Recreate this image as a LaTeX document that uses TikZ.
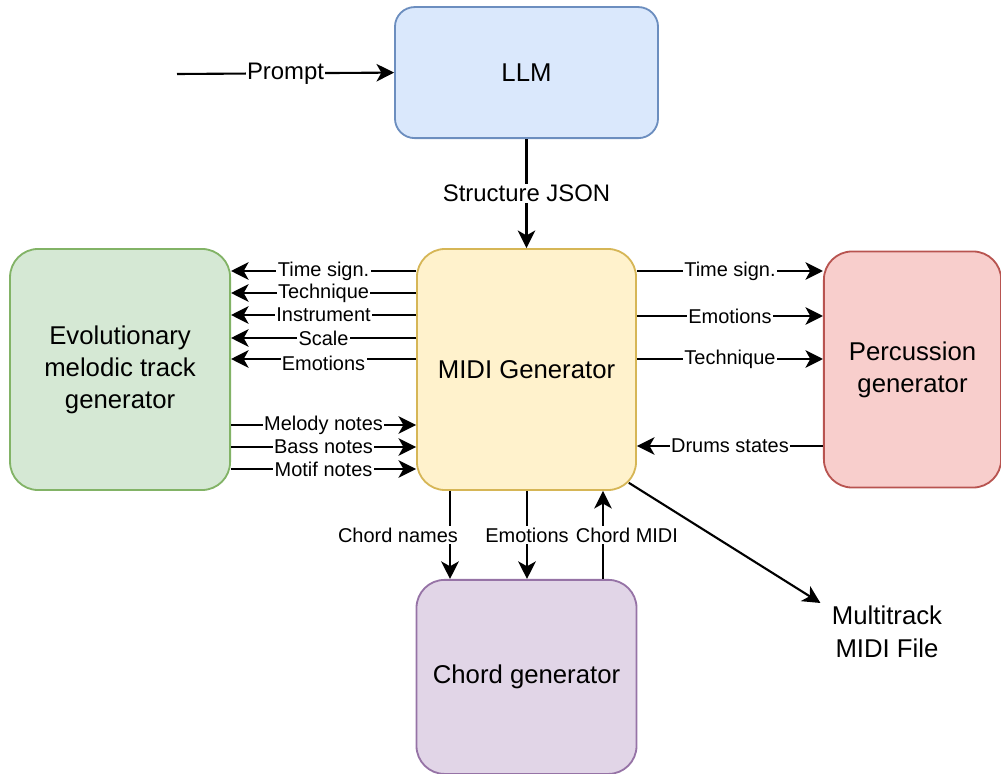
\documentclass[tikz,border=0pt]{standalone}
\usepackage{fontspec}
\setmainfont{Liberation Sans}
\usepackage{xcolor}
\usetikzlibrary{arrows.meta,positioning}

\definecolor{llmfill}{HTML}{DAE8FC}
\definecolor{llmdraw}{HTML}{6C8EBF}
\definecolor{midifill}{HTML}{FFF2CC}
\definecolor{mididraw}{HTML}{D6B656}
\definecolor{evofill}{HTML}{D5E8D4}
\definecolor{evodraw}{HTML}{82B366}
\definecolor{percfill}{HTML}{F8CECC}
\definecolor{percdraw}{HTML}{B85450}
\definecolor{chordfill}{HTML}{E1D5E7}
\definecolor{chorddraw}{HTML}{9673A6}

\begin{document}
\begin{tikzpicture}[
    x=0.025cm, y=-0.025cm,
    mybox/.style={
    rectangle,
    rounded corners=20pt,
    line width=1.3pt,
    align=center,
    inner sep=0pt,
    font=\fontsize{18.3}{22.8}\selectfont},
    mylabel/.style={
    fill=white,
    inner sep=1pt,
    font=\fontsize{14.2}{16}\selectfont},
    biglabel/.style={
    mylabel,
    font=\fontsize{17}{19}\selectfont},
    myarrow/.style={-{Stealth[length=12.5pt,width=12.5pt,inset=3.5pt]},line width=1.5pt}
    ]
    \useasboundingbox (0,0) rectangle (1001,774);

    \node[mybox, fill=midifill, draw=mididraw, minimum width=5.475cm, minimum height=6.025cm] (midi) at (526.5,369.5) {MIDI Generator};
    \node[mybox, fill=llmfill, draw=llmdraw, rounded corners=14pt, minimum width=6.575cm, minimum height=3.275cm, above=2.725cm of midi] (llm) {LLM};
    \node[mybox, fill=evofill, draw=evodraw, minimum width=5.5cm, minimum height=6.025cm, left=4.625cm of midi] (evo) {Evolutionary\\melodic track\\generator};
    \node[mybox, fill=percfill, draw=percdraw, minimum width=4.43cm, minimum height=5.9cm, right=4.65cm of midi] (perc) {Percussion\\generator};
    \node[mybox, fill=chordfill, draw=chorddraw, minimum width=5.5cm, minimum height=4.85cm, below=2.2cm of midi] (chord) {Chord generator};
    \node[align=center, inner sep=2pt, font=\fontsize{18.3}{23.4}\selectfont] (multi) at (887,632) {Multitrack\\MIDI File};
    \coordinate (prompt) at (177,74);

    \draw[myarrow] (prompt) -- node[biglabel] {Prompt} (llm.west);
    \draw[myarrow] (llm) -- node[biglabel] {Structure JSON} (midi);

    \draw[myarrow] (midi.west |- 0,271) -- node[mylabel] {Time sign.} (evo.east |- 0,271);
    \draw[myarrow] (midi.west |- 0,293) -- node[mylabel] {Technique} (evo.east |- 0,293);
    \draw[myarrow] (midi.west |- 0,315) -- node[mylabel] {Instrument} (evo.east |- 0,315);
    \draw[myarrow] (midi.west |- 0,338) -- node[mylabel] {Scale} (evo.east |- 0,338);
    \draw[myarrow] (midi.west |- 0,359) -- node[mylabel, yshift=-3pt] {Emotions} (evo.east |- 0,359);

    \draw[myarrow] (evo.east |- 0,425) -- node[mylabel] {Melody notes} (midi.west |- 0,425);
    \draw[myarrow] (evo.east |- 0,447) -- node[mylabel] {Bass notes} (midi.west |- 0,447);
    \draw[myarrow] (evo.east |- 0,469) -- node[mylabel] {Motif notes} (midi.west |- 0,469);

    \draw[myarrow] (midi.east |- 0,271) -- node[mylabel] {Time sign.} (perc.west |- 0,271);
    \draw[myarrow] (midi.east |- 0,316) -- node[mylabel] {Emotions} (perc.west |- 0,316);
    \draw[myarrow] (midi.east |- 0,359) -- node[mylabel] {Technique} (perc.west |- 0,359);
    \draw[myarrow] (perc.west |- 0,446) -- node[mylabel] {Drums states} (midi.east |- 0,446);

    \draw[myarrow] (midi.south -| 450,0) -- node[mylabel, xshift=-37pt] {Chord names} (chord.north -| 450,0);
    \draw[myarrow] (midi.south -| 527,0) -- node[mylabel] {Emotions} (chord.north -| 527,0);
    \draw[myarrow] (chord.north -| 603,0) -- node[mylabel, xshift=17pt] {Chord MIDI} (midi.south -| 603,0);

    \draw[myarrow] ([shift={(-5.8pt,5.8pt)}]midi.south east) -- ([xshift=-6pt]multi.north west);
\end{tikzpicture}
\end{document}
